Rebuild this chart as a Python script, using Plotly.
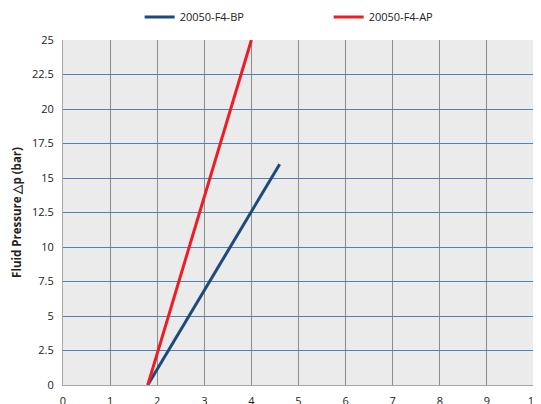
import plotly.graph_objects as go

series_names = ["20050-F4-BP", "20050-F4-AP"]
bp_flow = [1.8, 4.6]
bp_pressure = [0, 16]
ap_flow = [1.8, 4.0]
ap_pressure = [0, 25]
x_ticks = [0, 1, 2, 3, 4, 5, 6, 7, 8, 9, 10]
y_ticks = [0, 2.5, 5, 7.5, 10, 12.5, 15, 17.5, 20, 22.5, 25]
y_tick_labels = ["0", "2.5", "5", "7.5", "10", "12.5", "15", "17.5", "20", "22.5", "25"]

fig = go.Figure()
fig.add_trace(go.Scatter(x=bp_flow, y=bp_pressure, mode="lines", name=series_names[0],
                         line=dict(color="#1B4A7C", width=3)))
fig.add_trace(go.Scatter(x=ap_flow, y=ap_pressure, mode="lines", name=series_names[1],
                         line=dict(color="#EE1C25", width=3)))

fig.update_layout(
    width=533, height=396,
    margin=dict(l=55, r=7, t=32, b=19, autoexpand=False),
    paper_bgcolor="white",
    plot_bgcolor="#EBEBEB",
    font=dict(family="Open Sans, Liberation Sans, sans-serif", size=11, color="#222222"),
    showlegend=True,
    legend=dict(orientation="h", xref="container", yref="container",
                x=0.247, y=0.977, xanchor="left", yanchor="middle",
                entrywidth=144, font=dict(size=11), bgcolor="rgba(0,0,0,0)"),
    xaxis=dict(range=[0, 10], tickvals=x_ticks, showgrid=True, gridcolor="#8C8C8C", gridwidth=1,
               showline=True, linecolor="#A6A6A6", linewidth=1, zeroline=False,
               ticks="", ticklabelstandoff=6, automargin=False, fixedrange=True),
    yaxis=dict(range=[0, 25], tickvals=y_ticks, ticktext=y_tick_labels, showgrid=True,
               gridcolor="#4F81BD", gridwidth=1, showline=True, linecolor="#A6A6A6", linewidth=1,
               zeroline=False, ticks="", ticklabelstandoff=6, automargin=False,
               title=dict(text="<b>Fluid Pressure △p (bar)</b>", font=dict(size=11.5), standoff=8),
               fixedrange=True),
)

fig.write_html("out.html")
